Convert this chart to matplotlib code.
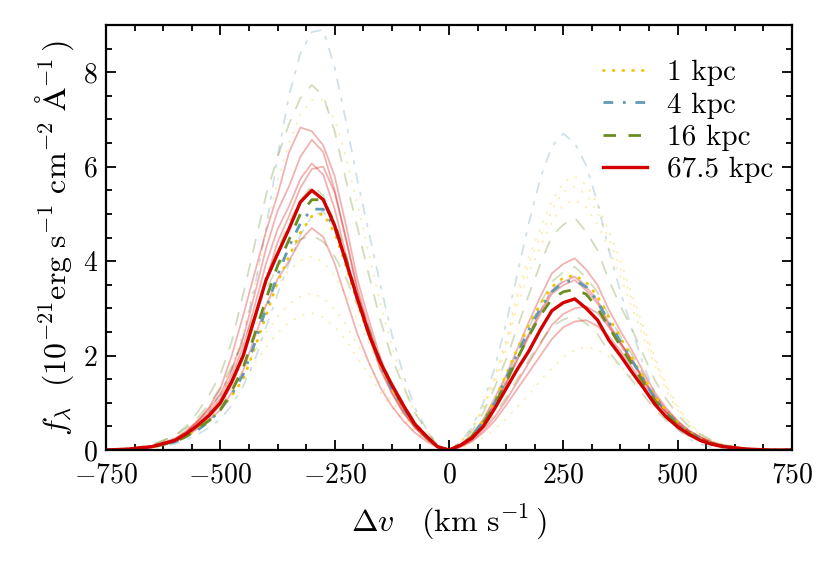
import matplotlib
matplotlib.use('Agg')
import matplotlib.pyplot as plt
from matplotlib.ticker import MultipleLocator, AutoMinorLocator

plt.rcParams['font.family'] = 'serif'
plt.rcParams['font.serif'] = ['cmr10']
plt.rcParams['mathtext.fontset'] = 'cm'
plt.rcParams['axes.formatter.use_mathtext'] = True
plt.rcParams['lines.scale_dashes'] = False

# velocity grid (km/s)
dv_blue = [-750, -700, -650, -600, -575, -550, -525, -500, -475, -450, -425, -400, -375, -350,
           -325, -300, -275, -250, -225, -200, -175, -150, -125, -100, -75, -50, -25, 0]
dv_red = [25, 50, 75, 100, 125, 150, 175, 200, 225, 250, 275, 300, 325, 350,
          375, 400, 425, 450, 475, 500, 525, 550, 575, 600, 650, 700, 750]
dv = dv_blue + dv_red

# flux in 1e-21 erg/s/cm2/A, blue lobe then red lobe
f_1kpc = [0, .02, .06, .17, .29, .45, .63, .85, 1.15, 1.5, 2.15, 2.85, 3.55, 4.1, 4.6, 4.95, 5.0, 4.6, 3.9, 3.1, 2.4, 1.8, 1.3, .9, .53, .28, .07, 0] + \
         [.1, .3, .62, 1.05, 1.6, 2.15, 2.65, 3.1, 3.45, 3.65, 3.7, 3.55, 3.25, 2.8, 2.38, 1.95, 1.55, 1.15, .83, .58, .38, .24, .14, .08, .02, 0, 0]
f_4kpc = [0, .02, .06, .17, .28, .42, .6, .85, 1.18, 1.6, 2.25, 3.0, 3.7, 4.3, 4.8, 5.1, 5.1, 4.7, 4.0, 3.15, 2.45, 1.8, 1.3, .9, .53, .28, .07, 0] + \
         [.1, .3, .6, 1.0, 1.52, 2.05, 2.55, 3.0, 3.35, 3.55, 3.6, 3.45, 3.15, 2.7, 2.3, 1.9, 1.5, 1.1, .8, .55, .37, .23, .14, .08, .02, 0, 0]
f_16kpc = [0, .02, .06, .17, .28, .45, .62, .85, 1.25, 1.75, 2.45, 3.2, 3.9, 4.45, 5.0, 5.3, 5.3, 4.8, 4.05, 3.2, 2.5, 1.85, 1.35, .93, .55, .29, .07, 0] + \
          [.09, .28, .58, .95, 1.45, 1.95, 2.42, 2.85, 3.2, 3.35, 3.4, 3.3, 3.0, 2.6, 2.2, 1.82, 1.43, 1.05, .77, .53, .35, .22, .13, .07, .02, 0, 0]
f_67kpc = [0, .02, .07, .2, .34, .52, .73, 1.0, 1.45, 2.0, 2.8, 3.6, 4.15, 4.68, 5.25, 5.5, 5.3, 4.75, 3.98, 3.2, 2.45, 1.85, 1.38, .95, .55, .3, .07, 0] + \
          [.1, .25, .5, .88, 1.3, 1.72, 2.1, 2.55, 2.95, 3.12, 3.2, 3.0, 2.75, 2.32, 2.0, 1.65, 1.32, .97, .7, .49, .33, .2, .12, .07, .02, 0, 0]

# other sightlines (drawn faint)
faint_1kpc = [
    [0, .02, .06, .2, .32, .5, .75, 1.1, 1.7, 2.5, 3.5, 4.6, 5.7, 6.5, 7.1, 7.42, 7.4, 7.0, 6.2, 5.2, 4.15, 3.1, 2.2, 1.4, .8, .4, .1, 0] +
    [.16, .42, .85, 1.43, 2.12, 3.07, 3.76, 4.29, 4.82, 5.19, 5.3, 5.14, 4.77, 4.24, 3.66, 3.02, 2.39, 1.8, 1.27, .85, .53, .32, .19, .11, .03, .005, 0],
    [0, .03, .1, .27, .41, .62, .86, 1.19, 1.6, 2.05, 2.58, 3.08, 3.49, 3.81, 4.02, 4.1, 3.98, 3.69, 3.28, 2.75, 2.26, 1.72, 1.27, .9, .53, .29, .08, 0] +
    [.17, .46, .93, 1.56, 2.32, 3.36, 4.11, 4.69, 5.27, 5.67, 5.79, 5.62, 5.21, 4.63, 4.0, 3.3, 2.61, 1.97, 1.39, .93, .58, .35, .2, .12, .03, .006, 0],
    [0, .027, .083, .22, .33, .5, .7, .96, 1.29, 1.66, 2.09, 2.49, 2.82, 3.09, 3.25, 3.32, 3.22, 2.99, 2.66, 2.22, 1.83, 1.39, 1.03, .73, .43, .23, .07, 0] +
    [.17, .45, .89, 1.51, 2.23, 3.24, 3.96, 4.52, 5.08, 5.47, 5.58, 5.41, 5.02, 4.46, 3.85, 3.18, 2.51, 1.9, 1.34, .89, .56, .33, .2, .11, .03, .006, 0],
    [0, .023, .073, .19, .29, .44, .61, .84, 1.13, 1.45, 1.83, 2.18, 2.47, 2.7, 2.84, 2.9, 2.81, 2.61, 2.32, 1.94, 1.6, 1.22, .9, .64, .38, .2, .06, 0] +
    [.04, .13, .26, .44, .66, .92, 1.18, 1.47, 1.73, 1.97, 2.12, 2.19, 2.12, 1.97, 1.77, 1.53, 1.29, 1.03, .79, .59, .42, .26, .16, .1, .03, .01, 0],
]
faint_4kpc = [
    [0, .02, .06, .18, .31, .5, .8, 1.2, 1.7, 2.4, 3.45, 4.7, 6.2, 7.5, 8.4, 8.85, 8.9, 8.1, 6.95, 5.7, 4.6, 3.5, 2.45, 1.6, .9, .45, .1, 0] +
    [.17, .47, 1.0, 1.74, 2.68, 3.75, 4.82, 5.76, 6.43, 6.7, 6.5, 6.03, 5.23, 4.22, 3.35, 2.55, 1.81, 1.21, .74, .44, .23, .12, .06, .03, .007, 0, 0],
    [0, .015, .05, .13, .21, .33, .47, .65, .95, 1.35, 1.9, 2.6, 3.3, 3.95, 4.55, 4.95, 5.05, 4.7, 4.0, 3.25, 2.6, 1.95, 1.45, 1.0, .62, .32, .08, 0] +
    [.11, .3, .59, 1.0, 1.44, 1.96, 2.48, 2.96, 3.4, 3.59, 3.7, 3.48, 3.18, 2.7, 2.29, 1.92, 1.52, 1.11, .81, .57, .37, .25, .15, .08, .02, 0, 0],
]
faint_16kpc = [
    [0, .03, .1, .3, .5, .8, 1.15, 1.6, 2.3, 3.3, 4.35, 5.4, 6.2, 6.9, 7.45, 7.73, 7.5, 6.75, 5.7, 4.7, 3.7, 2.75, 1.95, 1.35, .8, .42, .1, 0] +
    [.15, .39, .79, 1.33, 1.92, 2.61, 3.3, 3.94, 4.53, 4.77, 4.92, 4.62, 4.23, 3.59, 3.05, 2.56, 2.02, 1.48, 1.08, .75, .49, .33, .2, .11, .03, 0, 0],
    [0, .02, .07, .2, .34, .53, .73, 1.01, 1.46, 2.02, 2.81, 3.65, 4.24, 4.82, 5.27, 5.61, 5.39, 4.82, 4.04, 3.25, 2.58, 1.91, 1.4, .95, .59, .31, .08, 0] +
    [.12, .31, .62, 1.05, 1.51, 2.06, 2.6, 3.1, 3.57, 3.76, 3.88, 3.65, 3.34, 2.83, 2.41, 2.02, 1.59, 1.16, .85, .59, .39, .26, .16, .09, .02, 0, 0],
    [0, .036, .11, .3, .46, .68, .96, 1.32, 1.77, 2.28, 2.87, 3.41, 3.87, 4.23, 4.46, 4.55, 4.41, 4.1, 3.64, 3.05, 2.5, 1.91, 1.41, 1.0, .59, .32, .09, 0] +
    [.09, .23, .46, .77, 1.11, 1.51, 1.91, 2.28, 2.62, 2.76, 2.85, 2.68, 2.45, 2.08, 1.77, 1.48, 1.17, .86, .63, .44, .29, .19, .11, .06, .02, 0, 0],
]
faint_67kpc = [
    [0, .02, .07, .22, .38, .6, .9, 1.3, 2.0, 2.85, 3.75, 4.63, 5.4, 6.3, 6.83, 6.75, 6.45, 5.8, 4.75, 3.6, 2.75, 1.95, 1.35, .88, .5, .25, .06, 0] +
    [.12, .32, .65, 1.1, 1.58, 2.15, 2.72, 3.25, 3.74, 3.94, 4.06, 3.82, 3.49, 2.96, 2.52, 2.11, 1.66, 1.22, .89, .62, .41, .28, .16, .09, .02, 0, 0],
    [0, .026, .085, .24, .4, .62, .86, 1.18, 1.7, 2.37, 3.3, 4.27, 5.06, 5.58, 6.21, 6.57, 6.31, 5.5, 4.47, 3.42, 2.6, 1.84, 1.3, .85, .52, .26, .06, 0] +
    [.11, .29, .59, .99, 1.43, 1.95, 2.46, 2.94, 3.38, 3.56, 3.67, 3.45, 3.16, 2.68, 2.28, 1.91, 1.5, 1.1, .81, .56, .37, .25, .15, .08, .02, 0, 0],
    [0, .024, .079, .22, .37, .58, .8, 1.09, 1.58, 2.19, 3.05, 3.95, 4.67, 5.16, 5.74, 6.07, 5.83, 5.1, 4.13, 3.16, 2.4, 1.7, 1.2, .79, .48, .24, .06, 0] +
    [.11, .29, .58, .97, 1.4, 1.91, 2.41, 2.88, 3.31, 3.49, 3.6, 3.38, 3.1, 2.63, 2.23, 1.87, 1.48, 1.08, .79, .55, .36, .24, .14, .08, .02, 0, 0],
    [0, .02, .06, .18, .3, .48, .68, .95, 1.38, 1.95, 2.75, 3.6, 4.4, 4.95, 5.55, 5.95, 6.0, 5.45, 4.45, 3.35, 2.5, 1.75, 1.22, .8, .48, .25, .06, 0] +
    [.07, .2, .42, .7, 1.05, 1.45, 1.85, 2.25, 2.65, 2.88, 3.0, 3.04, 2.9, 2.6, 2.27, 1.9, 1.52, 1.15, .85, .6, .41, .27, .17, .1, .03, 0, 0],
    [0, .019, .061, .17, .29, .45, .63, .85, 1.22, 1.69, 2.38, 3.06, 3.62, 4.0, 4.44, 4.7, 4.51, 3.95, 3.2, 2.45, 1.85, 1.32, .93, .62, .37, .19, .05, 0] +
    [.06, .18, .37, .62, .95, 1.3, 1.65, 2.0, 2.35, 2.6, 2.72, 2.75, 2.62, 2.4, 2.1, 1.75, 1.4, 1.05, .78, .55, .38, .25, .15, .09, .03, 0, 0],
]

labels = ['1 kpc', '4 kpc', '16 kpc', '67.5 kpc']
colors = ['#f2c300', '#5e9bb3', '#6b8e23', '#d40000']
styles = [(0, (0.6, 6.4)), (0, (7, 7, 2, 7)), (0, (9, 9)), '-']
main = [f_1kpc, f_4kpc, f_16kpc, f_67kpc]
faint = [faint_1kpc, faint_4kpc, faint_16kpc, faint_67kpc]

fig = plt.figure(figsize=(8.31, 5.63), dpi=100)
ax = fig.add_axes([0.1276, 0.2007, 0.8254, 0.7549])

for group, c, ls in zip(faint, colors, styles):
    for f in group:
        ax.plot(dv, f, color=c, ls=ls, lw=1.3, alpha=0.3, dash_capstyle='round')

for f, c, ls, lab in zip(main, colors, styles, labels):
    lw = 2.4 if ls == '-' else 2.0
    cap = 'round' if c == colors[0] else 'butt'
    ax.plot(dv, f, color=c, ls=ls, lw=lw, label=lab, dash_capstyle=cap)

ax.set_xlim(-750, 750)
ax.set_ylim(0, 9)
ax.xaxis.set_major_locator(MultipleLocator(250))
ax.yaxis.set_major_locator(MultipleLocator(2))
ax.xaxis.set_minor_locator(AutoMinorLocator(4))
ax.yaxis.set_minor_locator(AutoMinorLocator(4))
ax.tick_params(which='both', direction='in', top=True, right=True, labelsize=20, width=1.3)
ax.tick_params(which='major', length=7)
ax.tick_params(which='minor', length=4)
ax.tick_params(axis='x', pad=9)
ax.tick_params(axis='y', pad=6)
for sp in ax.spines.values():
    sp.set_linewidth(1.6)

ax.set_xlabel(r'$\Delta v\quad(\mathrm{km\ s}^{-1}\,)$', fontsize=23, labelpad=10)
ax.set_ylabel(r'$f_\lambda\ \ (10^{-21}\mathrm{erg\ s}^{-1}\ \mathrm{cm}^{-2}\ \mathrm{\AA}^{-1}\,)$',
              fontsize=23, labelpad=5)

ax.legend(loc='upper right', bbox_to_anchor=(0.99, 0.945), borderaxespad=0, frameon=False,
          fontsize=21, handlelength=1.5, handletextpad=0.7, labelspacing=0.2)

fig.savefig('out.png', dpi=100)
